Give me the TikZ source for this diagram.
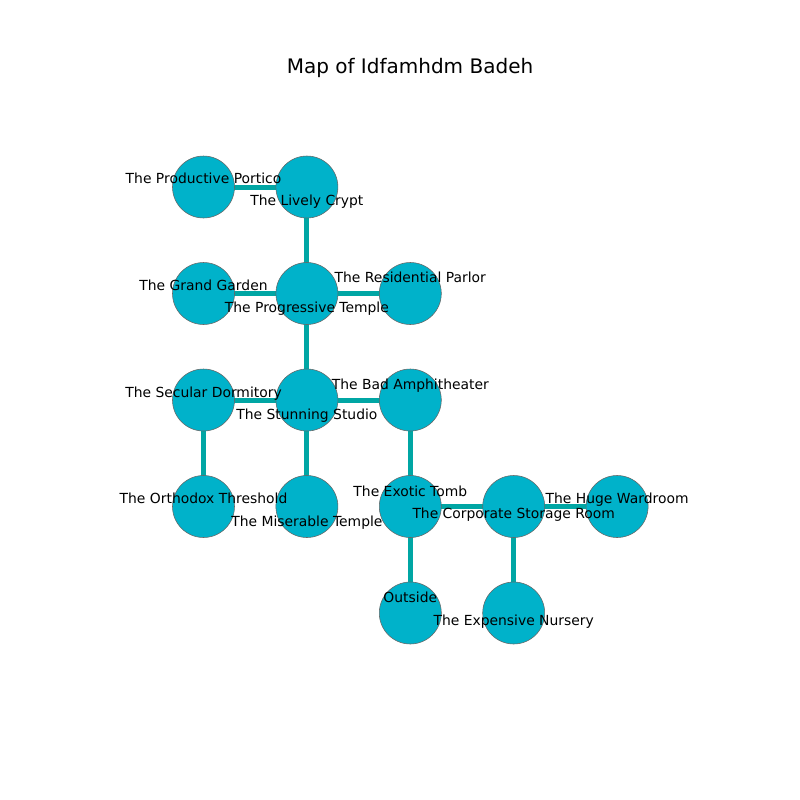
\documentclass[tikz,border=0pt]{standalone}
\usepackage{fontspec}
\setmainfont{DejaVu Sans}
\pgfdeclarelayer{passages}
\pgfsetlayers{passages,main}
\begin{document}
\begin{tikzpicture}[x=0.72pt,y=-0.72pt,
  room/.style={circle,draw=gray!80!black,line width=0.4pt,fill=roomfill,minimum size=62*0.72pt,inner sep=0pt},
  passage/.style={draw=passagecol,line width=3.6pt},
  roomname/.style={anchor=base,inner sep=0pt,font=\fontsize{10pt}{12pt}\selectfont,text=black}]
\definecolor{roomfill}{RGB}{0,178,202}
\definecolor{passagecol}{RGB}{0,166,164}
\useasboundingbox (0,0) rectangle (800,800);

% title
\node[anchor=base,inner sep=0pt,font=\fontsize{14.4pt}{17pt}\selectfont] (title) at (410,73) {Map of Idfamhdm Badeh};

% rooms on the grid
\node[room] (portico)   at (203.5,187) {};
\node[room] (crypt)     at (306.9,187) {};
\node[room] (garden)    at (203.5,293.5) {};
\node[room] (temple)    at (306.9,293.5) {};
\node[room] (parlor)    at (410.3,293.5) {};
\node[room] (dormitory) at (203.5,400) {};
\node[room] (studio)    at (306.9,400) {};
\node[room] (amphi)     at (410.3,400) {};
\node[room] (threshold) at (203.5,506.5) {};
\node[room] (miserable) at (306.9,506.5) {};
\node[room] (tomb)      at (410.3,506.5) {};
\node[room] (storage)   at (513.7,506.5) {};
\node[room] (wardroom)  at (617.1,506.5) {};
\node[room] (outside)   at (410.3,613) {};
\node[room] (nursery)   at (513.7,613) {};

% passages between rooms, on a layer beneath the circles
\begin{pgfonlayer}{passages}
\foreach \a/\b in {portico/crypt,crypt/temple,garden/temple,temple/parlor,temple/studio,
  dormitory/studio,studio/amphi,dormitory/threshold,studio/miserable,amphi/tomb,
  tomb/storage,storage/wardroom,tomb/outside,storage/nursery}
  \draw[passage] (\a.center) -- (\b.center);
\end{pgfonlayer}

% room names
\node[roomname] (l-portico)   at (203.5,183) {The Productive Portico};
\node[roomname] (l-crypt)     at (306.9,205) {The Lively Crypt};
\node[roomname] (l-garden)    at (203.5,290) {The Grand Garden};
\node[roomname] (l-temple)    at (306.9,312) {The Progressive Temple};
\node[roomname] (l-parlor)    at (410.3,282) {The Residential Parlor};
\node[roomname] (l-dormitory) at (203.5,397) {The Secular Dormitory};
\node[roomname] (l-studio)    at (306.9,419) {The Stunning Studio};
\node[roomname] (l-amphi)     at (410.3,389) {The Bad Amphitheater};
\node[roomname] (l-threshold) at (203.5,503) {The Orthodox Threshold};
\node[roomname] (l-miserable) at (306.9,526) {The Miserable Temple};
\node[roomname] (l-tomb)      at (410.3,496) {The Exotic Tomb};
\node[roomname] (l-storage)   at (513.7,518) {The Corporate Storage Room};
\node[roomname] (l-wardroom)  at (617.1,503) {The Huge Wardroom};
\node[roomname] (l-outside)   at (410.3,602) {Outside};
\node[roomname] (l-nursery)   at (513.7,625) {The Expensive Nursery};
\end{tikzpicture}
\end{document}
